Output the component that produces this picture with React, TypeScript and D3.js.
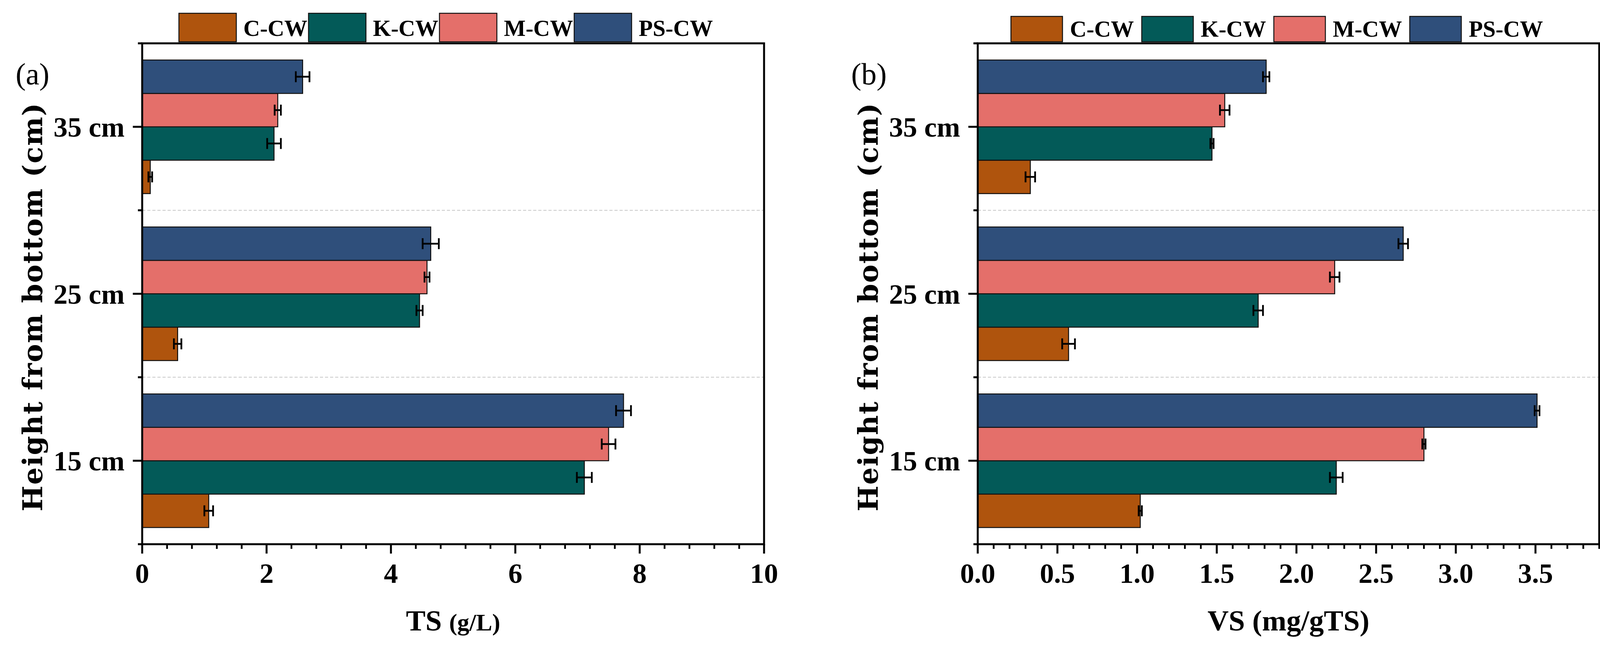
import * as d3 from "d3";

// heights (y categories, top to bottom) and series
const categories = ["35 cm", "25 cm", "15 cm"];
const series = ["C-CW", "K-CW", "M-CW", "PS-CW"];
const colors = ["#AF540D", "#035A58", "#E46F6A", "#2F4F7B"];

// TS (g/L), per series, in category order 35 / 25 / 15 cm
const tsC = [0.13, 0.57, 1.07];
const tsK = [2.12, 4.46, 7.11];
const tsM = [2.18, 4.58, 7.5];
const tsPS = [2.58, 4.64, 7.74];
const tsErrC = [0.03, 0.06, 0.07];
const tsErrK = [0.11, 0.05, 0.12];
const tsErrM = [0.05, 0.04, 0.11];
const tsErrPS = [0.11, 0.13, 0.12];

// VS (mg/gTS)
const vsC = [0.33, 0.57, 1.02];
const vsK = [1.47, 1.76, 2.25];
const vsM = [1.55, 2.24, 2.8];
const vsPS = [1.81, 2.67, 3.51];
const vsErrC = [0.03, 0.04, 0.01];
const vsErrK = [0.01, 0.03, 0.04];
const vsErrM = [0.03, 0.03, 0.01];
const vsErrPS = [0.02, 0.03, 0.015];

const W = 4131;
const H = 1665;
const TOP = 111;
const BOTTOM = 1394;
const FONT = "'Liberation Serif', 'Times New Roman', serif";
const WIDE = "'DejaVu Serif', serif";

// rough Times bold glyph widths, for the legend flow
const charW: { [k: string]: number } = { C: 0.722, K: 0.778, M: 0.944, P: 0.611, S: 0.556, W: 1.0, "-": 0.333 };
const textWidth = (s: string, fs: number) => s.split("").reduce((a, c) => a + (charW[c] ?? 0.5), 0) * fs;

type PanelProps = {
  label: string;
  x0: number;
  x1: number;
  max: number;
  major: number;
  minor: number;
  fmt: string;
  values: number[][];
  errs: number[][];
  title: string;
  unit: string;
  unitSize: number;
  legend: { x: number; y: number; w: number; h: number; fs: number; gap: number; after: number; base: number };
};

const Panel = (props: PanelProps) => {
  const { label, x0, x1, max, major, minor, fmt, values, errs, title, unit, unitSize, legend } = props;
  const x = d3.scaleLinear().domain([0, max]).range([x0, x1]);
  const y = d3.scaleBand().domain(categories).range([TOP, BOTTOM]).padding(0);
  // top to bottom inside a group: PS, M, K, C
  const inner = d3
    .scaleBand()
    .domain([...series].reverse())
    .range([0, y.bandwidth()])
    .paddingInner(0)
    .paddingOuter(0.5);

  const majorTicks = d3.range(0, max + 1e-9, major);
  const minorTicks = d3
    .range(0, max + 1e-9, minor)
    .filter((t) => Math.abs(t / major - Math.round(t / major)) > 1e-6);
  const boundaries = categories.map((c) => y(c)!).concat([BOTTOM]);
  const f = d3.format(fmt);

  // legend flow
  let lx = legend.x;
  const items = series.map((s, i) => {
    const it = { s, i, bx: lx, tx: lx + legend.w + legend.gap };
    lx = it.tx + textWidth(s, legend.fs) + legend.after;
    return it;
  });

  const cx = (x0 + x1) / 2;

  return (
    <g>
      {/* dashed separators between groups */}
      {boundaries.slice(1, -1).map((b) => (
        <line key={"g" + b} x1={x0} x2={x1} y1={b} y2={b} stroke="#c8c8c8" strokeWidth={2} strokeDasharray="8 5" />
      ))}

      {/* bars */}
      {series.map((s, si) =>
        categories.map((c, ci) => {
          const v = values[si][ci];
          const e = errs[si][ci];
          const by = y(c)! + inner(s)!;
          const bh = inner.bandwidth();
          const my = by + bh / 2;
          return (
            <g key={s + c}>
              <rect x={x(0)} y={by} width={x(v) - x(0)} height={bh} fill={colors[si]} stroke="#111" strokeWidth={2.5} />
              <line x1={x(v - e)} x2={x(v + e)} y1={my} y2={my} stroke="#000" strokeWidth={4.5} />
              <line x1={x(v - e)} x2={x(v - e)} y1={my - 14} y2={my + 14} stroke="#000" strokeWidth={4.5} />
              <line x1={x(v + e)} x2={x(v + e)} y1={my - 14} y2={my + 14} stroke="#000" strokeWidth={4.5} />
            </g>
          );
        })
      )}

      {/* frame */}
      <rect x={x0} y={TOP} width={x1 - x0} height={BOTTOM - TOP} fill="none" stroke="#000" strokeWidth={5} />

      {/* y ticks */}
      {categories.map((c) => {
        const cy = y(c)! + y.bandwidth() / 2;
        return (
          <g key={"yt" + c}>
            <line x1={x0 - 24} x2={x0} y1={cy} y2={cy} stroke="#000" strokeWidth={5} />
            <text x={x0 - 45} y={cy} dy="0.35em" textAnchor="end" fontFamily={FONT} fontWeight="bold" fontSize={72}>
              {c}
            </text>
          </g>
        );
      })}
      {boundaries.map((b) => (
        <line key={"ym" + b} x1={x0 - 11} x2={x0} y1={b} y2={b} stroke="#000" strokeWidth={5} />
      ))}

      {/* x ticks */}
      {majorTicks.map((t) => (
        <g key={"xt" + t}>
          <line x1={x(t)} x2={x(t)} y1={BOTTOM} y2={BOTTOM + 24} stroke="#000" strokeWidth={5} />
          <text x={x(t)} y={1493} textAnchor="middle" fontFamily={FONT} fontWeight="bold" fontSize={72}>
            {f(t)}
          </text>
        </g>
      ))}
      {minorTicks.map((t) => (
        <line key={"xm" + t} x1={x(t)} x2={x(t)} y1={BOTTOM} y2={BOTTOM + 12} stroke="#000" strokeWidth={4.5} />
      ))}

      {/* axis titles */}
      <text x={cx} y={1615} textAnchor="middle" fontFamily={FONT} fontWeight="bold" fontSize={75}>
        {title}
        <tspan fontSize={unitSize}>{unit}</tspan>
      </text>
      <text
        transform={`translate(${x0 - 256},787) rotate(-90)`}
        textAnchor="middle"
        fontFamily={WIDE}
        fontWeight="bold"
        fontSize={70}
        textLength={1046}
        lengthAdjust="spacing"
      >
        Height from bottom (cm)
      </text>

      {/* panel label */}
      <text x={x0 - 324} y={216} fontFamily={FONT} fontSize={78}>
        {label}
      </text>

      {/* legend */}
      {items.map((it) => (
        <g key={"lg" + it.s}>
          <rect x={it.bx} y={legend.y} width={legend.w} height={legend.h} fill={colors[it.i]} stroke="#111" strokeWidth={2.5} />
          <text x={it.tx} y={legend.base} fontFamily={FONT} fontWeight="bold" fontSize={legend.fs}>
            {it.s}
          </text>
        </g>
      ))}
    </g>
  );
};

export default function App() {
  return (
    <svg width={W} height={H} style={{ position: "absolute", left: 0, top: 0, background: "#fff" }}>
      <rect width={W} height={H} fill="#fff" />
      <Panel
        label="(a)"
        x0={364}
        x1={1956}
        max={10}
        major={2}
        minor={0.4}
        fmt="d"
        values={[tsC, tsK, tsM, tsPS]}
        errs={[tsErrC, tsErrK, tsErrM, tsErrPS]}
        title="TS "
        unit="(g/L)"
        unitSize={62}
        legend={{ x: 458, y: 34, w: 147, h: 73, fs: 59, gap: 18, after: 3, base: 92 }}
      />
      <Panel
        label="(b)"
        x0={2503}
        x1={4094}
        max={3.9}
        major={0.5}
        minor={0.1}
        fmt=".1f"
        values={[vsC, vsK, vsM, vsPS]}
        errs={[vsErrC, vsErrK, vsErrM, vsErrPS]}
        title="VS "
        unit="(mg/gTS)"
        unitSize={75}
        legend={{ x: 2588, y: 42, w: 132, h: 65, fs: 59, gap: 19, after: 20, base: 94 }}
      />
    </svg>
  );
}
